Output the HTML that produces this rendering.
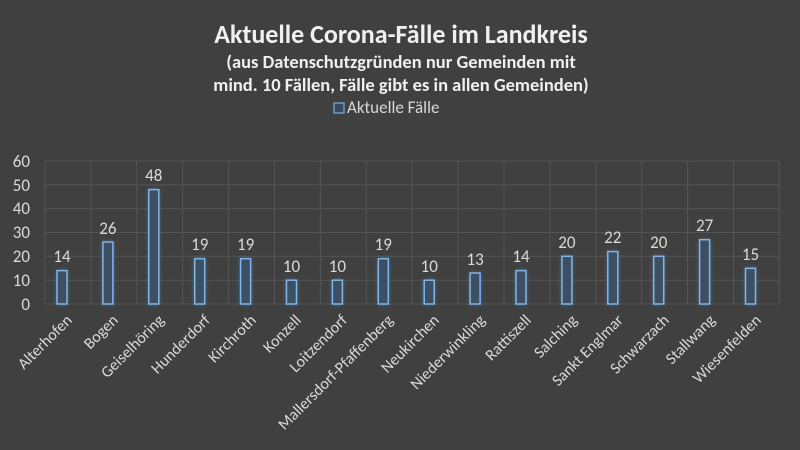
<!DOCTYPE html>
<html><head><meta charset="utf-8"><style>body{margin:0;background:#404040}svg{display:block}</style></head><body>
<svg width="800" height="450" xmlns="http://www.w3.org/2000/svg" font-family="Calibri, Carlito, 'Liberation Sans', sans-serif">
<defs><filter id="g" x="-100%" y="-20%" width="300%" height="140%"><feGaussianBlur stdDeviation="2.5"/></filter></defs>
<rect width="800" height="450" fill="#404040"/>
<text x="401" y="43" text-anchor="middle" font-size="26" font-weight="bold" fill="#f0f0f0">Aktuelle Corona-Fälle im Landkreis</text>
<text x="401" y="68" text-anchor="middle" font-size="18.5" font-weight="bold" fill="#f0f0f0">(aus Datenschutzgründen nur Gemeinden mit</text>
<text x="401" y="91" text-anchor="middle" font-size="18.5" font-weight="bold" fill="#f0f0f0">mind. 10 Fällen, Fälle gibt es in allen Gemeinden)</text>
<rect x="334" y="103" width="10" height="10" fill="#3a4a5c" stroke="#6fa8dc" stroke-width="1.3"/>
<text x="347" y="113" font-size="17" fill="#d9d9d9">Aktuelle Fälle</text>
<g stroke="#555" stroke-width="1">
<line x1="45" x2="779.4" y1="304" y2="304"/><line x1="45" x2="779.4" y1="280.2" y2="280.2"/><line x1="45" x2="779.4" y1="256.3" y2="256.3"/><line x1="45" x2="779.4" y1="232.5" y2="232.5"/><line x1="45" x2="779.4" y1="208.7" y2="208.7"/><line x1="45" x2="779.4" y1="184.9" y2="184.9"/><line x1="45" x2="779.4" y1="161" y2="161"/>
<line x1="45" x2="45" y1="161" y2="304"/><line x1="90.9" x2="90.9" y1="161" y2="304"/><line x1="136.8" x2="136.8" y1="161" y2="304"/><line x1="182.7" x2="182.7" y1="161" y2="304"/><line x1="228.6" x2="228.6" y1="161" y2="304"/><line x1="274.5" x2="274.5" y1="161" y2="304"/><line x1="320.4" x2="320.4" y1="161" y2="304"/><line x1="366.3" x2="366.3" y1="161" y2="304"/><line x1="412.2" x2="412.2" y1="161" y2="304"/><line x1="458.1" x2="458.1" y1="161" y2="304"/><line x1="504" x2="504" y1="161" y2="304"/><line x1="549.9" x2="549.9" y1="161" y2="304"/><line x1="595.8" x2="595.8" y1="161" y2="304"/><line x1="641.7" x2="641.7" y1="161" y2="304"/><line x1="687.6" x2="687.6" y1="161" y2="304"/><line x1="733.5" x2="733.5" y1="161" y2="304"/><line x1="779.4" x2="779.4" y1="161" y2="304"/>
</g>
<g font-size="17" fill="#d9d9d9" text-anchor="end">
<text x="30" y="310">0</text><text x="30" y="286">10</text><text x="30" y="262">20</text><text x="30" y="238">30</text><text x="30" y="214">40</text><text x="30" y="191">50</text><text x="30" y="167">60</text>
</g>
<g fill="#5b9bd5" opacity="0.6" filter="url(#g)">
<rect x="57" y="270.6" width="10" height="33.4"/><rect x="102.9" y="242" width="10" height="62"/><rect x="148.8" y="189.6" width="10" height="114.4"/><rect x="194.7" y="258.7" width="10" height="45.3"/><rect x="240.6" y="258.7" width="10" height="45.3"/><rect x="286.5" y="280.2" width="10" height="23.8"/><rect x="332.4" y="280.2" width="10" height="23.8"/><rect x="378.3" y="258.7" width="10" height="45.3"/><rect x="424.2" y="280.2" width="10" height="23.8"/><rect x="470.1" y="273" width="10" height="31"/><rect x="516" y="270.6" width="10" height="33.4"/><rect x="561.9" y="256.3" width="10" height="47.7"/><rect x="607.8" y="251.6" width="10" height="52.4"/><rect x="653.7" y="256.3" width="10" height="47.7"/><rect x="699.6" y="239.7" width="10" height="64.3"/><rect x="745.5" y="268.3" width="10" height="35.7"/>
</g>
<g fill="#3d4f63" stroke="#7fb6e8" stroke-width="1.5">
<rect x="57" y="270.6" width="10" height="33.4"/><rect x="102.9" y="242" width="10" height="62"/><rect x="148.8" y="189.6" width="10" height="114.4"/><rect x="194.7" y="258.7" width="10" height="45.3"/><rect x="240.6" y="258.7" width="10" height="45.3"/><rect x="286.5" y="280.2" width="10" height="23.8"/><rect x="332.4" y="280.2" width="10" height="23.8"/><rect x="378.3" y="258.7" width="10" height="45.3"/><rect x="424.2" y="280.2" width="10" height="23.8"/><rect x="470.1" y="273" width="10" height="31"/><rect x="516" y="270.6" width="10" height="33.4"/><rect x="561.9" y="256.3" width="10" height="47.7"/><rect x="607.8" y="251.6" width="10" height="52.4"/><rect x="653.7" y="256.3" width="10" height="47.7"/><rect x="699.6" y="239.7" width="10" height="64.3"/><rect x="745.5" y="268.3" width="10" height="35.7"/>
</g>
<g font-size="17" fill="#d9d9d9" text-anchor="middle">
<text x="62" y="262">14</text><text x="107.9" y="234">26</text><text x="153.8" y="181">48</text><text x="199.7" y="250">19</text><text x="245.6" y="250">19</text><text x="291.5" y="272">10</text><text x="337.4" y="272">10</text><text x="383.3" y="250">19</text><text x="429.2" y="272">10</text><text x="475.1" y="265">13</text><text x="521" y="262">14</text><text x="566.9" y="248">20</text><text x="612.8" y="243">22</text><text x="658.7" y="248">20</text><text x="704.6" y="231">27</text><text x="750.5" y="260">15</text>
</g>
<g font-size="16" fill="#d9d9d9" text-anchor="end">
<text transform="translate(73,321) rotate(-45)">Alterhofen</text>
<text transform="translate(119,321) rotate(-45)">Bogen</text>
<text transform="translate(165,321) rotate(-45)">Geiselhöring</text>
<text transform="translate(211,321) rotate(-45)">Hunderdorf</text>
<text transform="translate(257,321) rotate(-45)">Kirchroth</text>
<text transform="translate(302,321) rotate(-45)">Konzell</text>
<text transform="translate(348,321) rotate(-45)">Loitzendorf</text>
<text transform="translate(394,321) rotate(-45)">Mallersdorf-Pfaffenberg</text>
<text transform="translate(440,321) rotate(-45)">Neukirchen</text>
<text transform="translate(486,321) rotate(-45)">Niederwinkling</text>
<text transform="translate(532,321) rotate(-45)">Rattiszell</text>
<text transform="translate(578,321) rotate(-45)">Salching</text>
<text transform="translate(624,321) rotate(-45)">Sankt Englmar</text>
<text transform="translate(670,321) rotate(-45)">Schwarzach</text>
<text transform="translate(716,321) rotate(-45)">Stallwang</text>
<text transform="translate(762,321) rotate(-45)">Wiesenfelden</text>
</g>
</svg>
</body></html>
